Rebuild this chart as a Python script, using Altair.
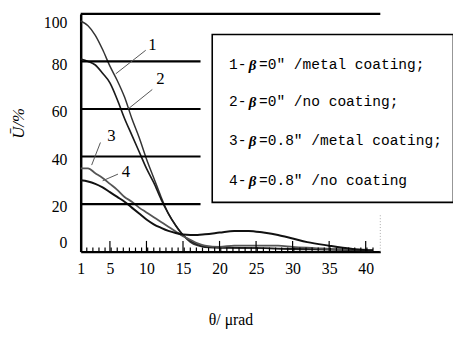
import altair as alt
import pandas as pd

# ---- data ----
theta_1 = [1, 2, 3, 4, 5, 6, 7, 8, 9, 10, 11, 12, 13, 14, 15, 16, 17, 18, 20, 25, 30, 35, 40, 41]
u_1 = [97, 95, 91, 85, 78, 72, 65, 56, 48, 39, 31, 23, 16, 11, 7, 4, 2.5, 1.8, 1.5, 1.5, 1.0, 0.8, 0.5, 0.5]

theta_2 = [1, 2, 3, 4, 5, 6, 7, 8, 9, 10, 11, 12, 13, 14, 15, 16, 17, 18, 20, 25, 30, 35, 40, 41]
u_2 = [81, 80, 78.5, 75, 71, 64, 56, 49, 42, 35, 29, 22, 16, 11, 7, 4.5, 3, 2, 1.8, 1.5, 1.2, 1.0, 0.6, 0.5]

theta_3 = [1, 2, 3, 4, 5, 6, 7, 8, 9, 10, 11, 12, 13, 14, 15, 16, 17, 18, 20, 22, 25, 28, 30, 33, 36, 40, 41]
u_3 = [35, 35, 33, 31, 28.5, 26, 23, 21, 18.5, 16.5, 14.5, 12.5, 10.5, 8.5, 6.5, 5, 3.5, 2.5, 2, 2.5, 2.5, 2.5, 2, 1.5, 1.0, 0.8, 0.5]

theta_4 = [1, 2, 3, 4, 5, 6, 7, 8, 9, 10, 11, 12, 13, 14, 15, 16, 17, 18, 20, 22, 24, 26, 28, 30, 32, 35, 38, 40, 41]
u_4 = [30, 29.5, 28.5, 27, 25, 23, 21, 18.5, 16, 13.5, 11.5, 10, 8.7, 7.8, 7.2, 7, 7, 7.3, 8, 8.7, 8.7, 8, 7, 5.5, 4, 2.5, 1.2, 0.6, 0.5]

series_names = ["1", "2", "3", "4"]
x_tick_labels = [1, 5, 10, 15, 20, 25, 30, 35, 40]
y_tick_labels = [0, 20, 40, 60, 80, 100]

legend_prefix = ["1-", "2-", "3-", "4-"]
legend_rest = ["=0\u2033 /metal coating;", "=0\u2033 /no coating;",
               "=0.8\u2033 /metal coating;", "=0.8\u2033 /no coating"]
legend_y = [78.5, 62.8, 46.3, 29.8]

# curve number labels and leader lines (data units)
num_label = ["1", "2", "3", "4"]
num_x = [10.8, 11.9, 5.2, 7.2]
num_y = [87, 72.7, 48.8, 33.5]
lead_x = [9.9, 10.8, 3.7, 6.1]
lead_y = [84.7, 68.2, 45.9, 32.6]
lead_x2 = [5.8, 7.45, 2.5, 4.0]
lead_y2 = [74.8, 59.9, 36.4, 29.8]

grid_vals = [20, 40, 60, 80]
major_ticks = [5, 10, 15, 20, 25, 30, 35, 40]

# ---- build tables ----
rows = []
for name, xs_, ys_ in zip(series_names, [theta_1, theta_2, theta_3, theta_4], [u_1, u_2, u_3, u_4]):
    for a, b in zip(xs_, ys_):
        rows.append({"theta": a, "U": b, "s": name})
df = pd.DataFrame(rows)

xs = alt.Scale(domain=[1, 42], nice=False, zero=False)
ys = alt.Scale(domain=[0, 100], nice=False, zero=False)
serif = "Liberation Serif"

XT = "\u03b8/ \u03bcrad"
YT = "U\u0304/%"
xax = alt.Axis(values=x_tick_labels, ticks=False, grid=False, labelFont=serif,
               labelFontSize=16, labelColor="black", domainColor="black",
               domainWidth=2.5, labelPadding=9, title=XT,
               titleFont=serif, titleFontSize=16, titleFontWeight="normal",
               titleColor="black", titleY=69, titleBaseline="middle", labelFlush=False)
yax = alt.Axis(values=y_tick_labels, ticks=False, grid=False, labelFont=serif,
               labelFontSize=16, labelColor="black", domainColor="black",
               domainWidth=2.5, labelPadding=14, title=YT,
               labelOffset={"condition": [{"test": "datum.value == 100", "value": 9},
                                          {"test": "datum.value == 0", "value": -9}],
                            "value": 3},
               titleFont=serif, titleFontSize=17, titleFontWeight="normal",
               titleFontStyle="italic", titleColor="black",
               titleX=-63, titleY=111, titleBaseline="middle", titleAlign="center")


def X(f):
    return alt.X(f, scale=xs, axis=xax, title=XT)


def Y(f):
    return alt.Y(f, scale=ys, axis=yax, title=YT)


lines = alt.Chart(df).mark_line(interpolate="monotone").encode(
    x=X("theta:Q"),
    y=Y("U:Q"),
    detail="s:N",
    color=alt.Color("s:N", scale=alt.Scale(domain=series_names,
                                           range=["#333333", "#1a1a1a", "#555555", "#111111"]),
                    legend=None),
    strokeWidth=alt.StrokeWidth("s:N", scale=alt.Scale(domain=series_names, range=[1.5, 2.0, 1.2, 2.8]),
                                legend=None),
)

grid_df = pd.DataFrame({"y": grid_vals, "x": [1] * 4, "x2": [17.4] * 4})
grid = alt.Chart(grid_df).mark_rule(color="black", strokeWidth=2.2).encode(
    x=X("x:Q"), x2="x2:Q", y=Y("y:Q"))

top_df = pd.DataFrame({"y": [100], "x": [1], "x2": [42]})
top = alt.Chart(top_df).mark_rule(color="black", strokeWidth=2.5).encode(
    x=X("x:Q"), x2="x2:Q", y=Y("y:Q"))

right_df = pd.DataFrame({"x": [42], "y": [0], "y2": [16]})
right = alt.Chart(right_df).mark_rule(color="#aaaaaa", strokeWidth=1, strokeDash=[1, 2]).encode(
    x=X("x:Q"), y=Y("y:Q"), y2="y2:Q")

minor_ticks = [1 + i * 5 / 6 for i in range(0, 49)]
minor_df = pd.DataFrame({"x": minor_ticks, "y": [0] * len(minor_ticks), "y2": [1.7] * len(minor_ticks)})
minor = alt.Chart(minor_df).mark_rule(color="black", strokeWidth=1.2).encode(
    x=X("x:Q"), y=Y("y:Q"), y2="y2:Q")
major_df = pd.DataFrame({"x": major_ticks, "y": [0] * len(major_ticks), "y2": [4.5] * len(major_ticks)})
major = alt.Chart(major_df).mark_rule(color="black", strokeWidth=1.2).encode(
    x=X("x:Q"), y=Y("y:Q"), y2="y2:Q")

box_df = pd.DataFrame({"x": [19.0], "x2": [52.0], "y": [20.7], "y2": [91.3]})
box = alt.Chart(box_df).mark_rect(fill="white", stroke="black", strokeWidth=1.6).encode(
    x=X("x:Q"), x2="x2:Q", y=Y("y:Q"), y2="y2:Q")

leg_df = pd.DataFrame({"p": legend_prefix, "r": legend_rest, "y": legend_y,
                       "xp": [21.3] * 4, "xb": [24.0] * 4, "xr": [25.4] * 4, "b": ["\u03b2"] * 4})
mono = "Liberation Mono"
leg_p = alt.Chart(leg_df).mark_text(align="left", baseline="middle", font=mono, fontSize=14.8,
                                    color="black").encode(
    x=X("xp:Q"), y=Y("y:Q"), text="p:N")
leg_b = alt.Chart(leg_df).mark_text(align="left", baseline="middle", font=serif, fontSize=15,
                                    fontWeight="bold", fontStyle="italic", color="black").encode(
    x=X("xb:Q"), y=Y("y:Q"), text="b:N")
leg_r = alt.Chart(leg_df).mark_text(align="left", baseline="middle", font=mono, fontSize=14.8,
                                    color="black").encode(
    x=X("xr:Q"), y=Y("y:Q"), text="r:N")

num_df = pd.DataFrame({"t": num_label, "x": num_x, "y": num_y})
nums = alt.Chart(num_df).mark_text(font=serif, fontSize=17, color="black", baseline="middle").encode(
    x=X("x:Q"), y=Y("y:Q"), text="t:N")

lead_df = pd.DataFrame({"x": lead_x, "y": lead_y, "x2": lead_x2, "y2": lead_y2})
leads = alt.Chart(lead_df).mark_rule(color="#555555", strokeWidth=1).encode(
    x=X("x:Q"), y=Y("y:Q"), x2="x2:Q", y2="y2:Q")

chart = alt.layer(lines, grid, top, right, minor, major, box, leg_p, leg_b, leg_r, nums, leads).properties(
    width=305, height=242,
    autosize=alt.AutoSizeParams(type="none"),
    padding={"left": 74, "top": 3, "right": 74, "bottom": 88},
    background="white",
).configure_view(stroke=None).configure_axis(
    labelFont=serif, titleFont=serif, labelFontSize=16, titleFontSize=16
)

chart.save("out.html", embed_options={"renderer": "svg", "actions": False})
